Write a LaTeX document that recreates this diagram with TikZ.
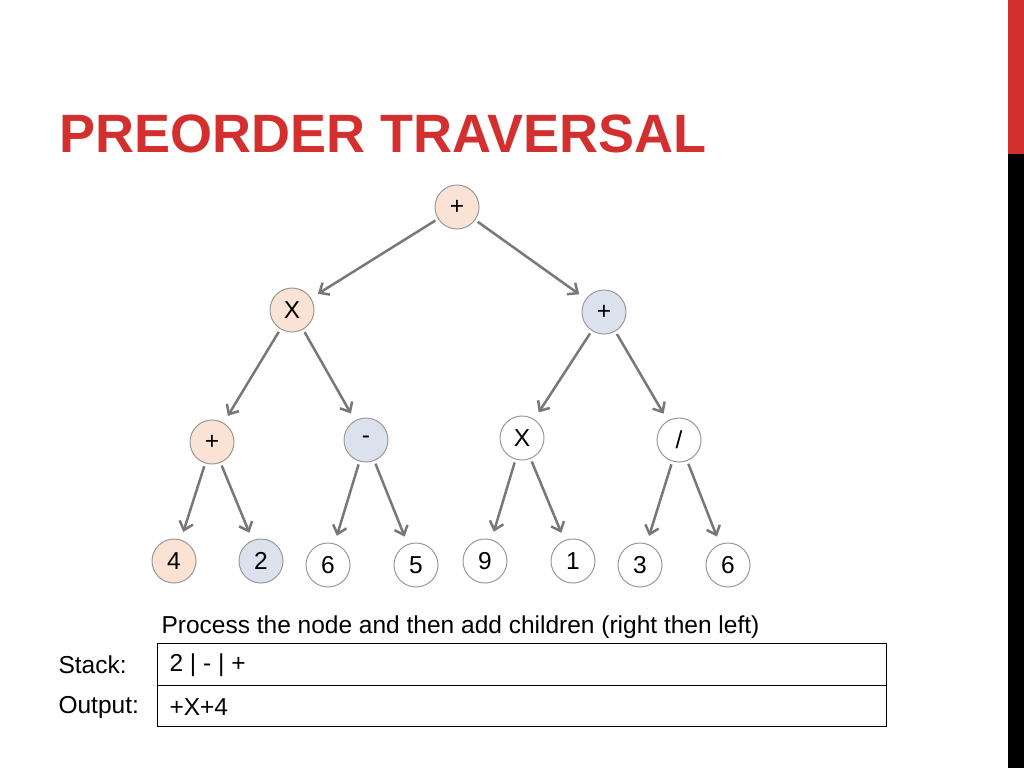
\documentclass[tikz,border=0pt]{standalone}
\usepackage{fontspec}
\setmainfont{Liberation Sans}
\usetikzlibrary{arrows.meta}
\definecolor{pnk}{RGB}{250, 226, 212}
\definecolor{blu}{RGB}{220, 225, 238}
\definecolor{ttl}{RGB}{211, 47, 47}
\definecolor{arr}{RGB}{120, 120, 120}

\begin{document}
\begin{tikzpicture}[
        x=1pt, y=-1pt,
        every node/.style={font=\fontsize{24.5}{28}\selectfont},
        tnode/.style={circle, draw=gray!80, line width=1pt, minimum size=44pt, inner sep=0pt, fill=white},
        edge/.style={draw=arr, line width=2.5pt, -{Straight Barb[length=8pt,width=14pt]}, shorten >=8pt, shorten <=3pt}
    ]
    \useasboundingbox (0,0) rectangle (1024,768);
    \fill[ttl] (1008,0) rectangle (1024,154);
    \fill[black] (1008,154) rectangle (1024,768);
    \node[anchor=west, text=ttl, font=\fontsize{54}{58}\selectfont\bfseries] (title) at (56,134) {PREORDER TRAVERSAL};

    % tree
    \node[tnode, fill=pnk] (root) at (457,207) {+};
    \node[tnode, fill=pnk] (lx) at (292,310) {X};
    \node[tnode, fill=blu] (rp) at (604,312) {+};
    \node[tnode, fill=pnk] (lp) at (212,442) {+};
    \node[tnode, fill=blu] (lm) at (366,440) {-};
    \node[tnode] (rx) at (522,438) {X};
    \node[tnode] (rd) at (679,440) {/};
    \node[tnode, fill=pnk] (a) at (174,561) {4};
    \node[tnode, fill=blu] (b) at (261,561) {2};
    \node[tnode] (c) at (328,565) {6};
    \node[tnode] (d) at (416,565) {5};
    \node[tnode] (e) at (485,561) {9};
    \node[tnode] (f) at (573,561) {1};
    \node[tnode] (g) at (640,565) {3};
    \node[tnode] (h) at (728,565) {6};

    \foreach \p/\c in {root/lx, root/rp, lx/lp, lx/lm, rp/rx, rp/rd,
                       lp/a, lp/b, lm/c, lm/d, rx/e, rx/f, rd/g, rd/h}
        \draw[edge] (\p) -- (\c);

    % stack and output
    \node[anchor=west] (note) at (158,627) {Process the node and then add children (right then left)};
    \node[anchor=west] (stk) at (55,665) {Stack:};
    \node[anchor=west] (out) at (55,707) {Output:};
    \draw[line width=1pt] (157,643) rectangle (886,685);
    \draw[line width=1pt] (157,685) rectangle (886,726);
    \node[anchor=west] (sval) at (166,665) {2 | - | +};
    \node[anchor=west] (oval) at (166,707) {+X+4};
\end{tikzpicture}
\end{document}
